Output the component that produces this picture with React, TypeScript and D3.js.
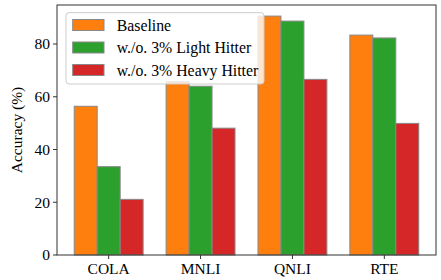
import * as d3 from 'd3';

const categories = ['COLA', 'MNLI', 'QNLI', 'RTE'];
const seriesNames = ['Baseline', 'w./o. 3% Light Hitter', 'w./o. 3% Heavy Hitter'];
const baseline = [56.4, 65.7, 90.6, 83.4];
const lightHitter = [33.5, 64.0, 88.7, 82.3];
const heavyHitter = [21.1, 48.1, 66.6, 49.9];
const yTicks = [0, 20, 40, 60, 80];

const colors = ['#ff7f0e', '#2ca02c', '#d62728'];
const series = [baseline, lightHitter, heavyHitter];

const W = 441;
const H = 280;
const m = { left: 57, right: 5, top: 5, bottom: 25 };
const font = 'Liberation Serif, Times New Roman, serif';

const App = () => {
  const x = d3.scaleLinear().domain([-0.5625, 3.5625]).range([m.left, W - m.right]);
  const y = d3.scaleLinear().domain([0, 94.8]).range([H - m.bottom, m.top]);
  const bw = 0.25;

  return (
    <svg width={W} height={H} style={{ position: 'absolute', left: 0, top: 0 }} fontFamily={font}>
      <rect width={W} height={H} fill='white' />
      {series.map((vals, s) =>
        vals.map((v, i) => (
          <rect
            key={`${s}-${i}`}
            x={x(i + (s - 1) * bw - bw / 2)}
            y={y(v)}
            width={x(bw) - x(0)}
            height={y(0) - y(v)}
            fill={colors[s]}
            stroke='#888'
            strokeWidth={1}
          />
        ))
      )}
      {/* axes frame */}
      <rect
        x={m.left}
        y={m.top}
        width={W - m.left - m.right}
        height={H - m.top - m.bottom}
        fill='none'
        stroke='#333'
        strokeWidth={1}
      />
      {yTicks.map((t) => (
        <g key={t}>
          <line x1={m.left - 4} x2={m.left} y1={y(t)} y2={y(t)} stroke='#333' />
          <text x={m.left - 7} y={y(t)} dy='0.35em' textAnchor='end' fontSize={15.5} fontFamily={font}>
            {t}
          </text>
        </g>
      ))}
      {categories.map((c, i) => (
        <g key={c}>
          <line x1={x(i)} x2={x(i)} y1={H - m.bottom} y2={H - m.bottom + 4} stroke='#333' />
          <text x={x(i)} y={H - m.bottom + 19} textAnchor='middle' fontSize={15.5} fontFamily={font}>
            {c}
          </text>
        </g>
      ))}
      <text
        transform={`translate(22,${(m.top + H - m.bottom) / 2}) rotate(-90)`}
        textAnchor='middle'
        fontSize={15.5}
        fontFamily={font}
      >
        Accuracy (%)
      </text>
      {/* legend */}
      <g>
        <rect x={66} y={12.7} width={198} height={71.3} rx={3} fill='white' fillOpacity={0.8} stroke='#ccc' />
        {seriesNames.map((n, s) => (
          <g key={n} transform={`translate(0,${25 + s * 22.5})`}>
            <rect x={72.7} y={-5.5} width={31.3} height={11} fill={colors[s]} stroke='#888' />
            <text x={116.7} y={0} dy='0.35em' fontSize={15.8} fontFamily={font}>
              {n}
            </text>
          </g>
        ))}
      </g>
    </svg>
  );
};

export default App;
